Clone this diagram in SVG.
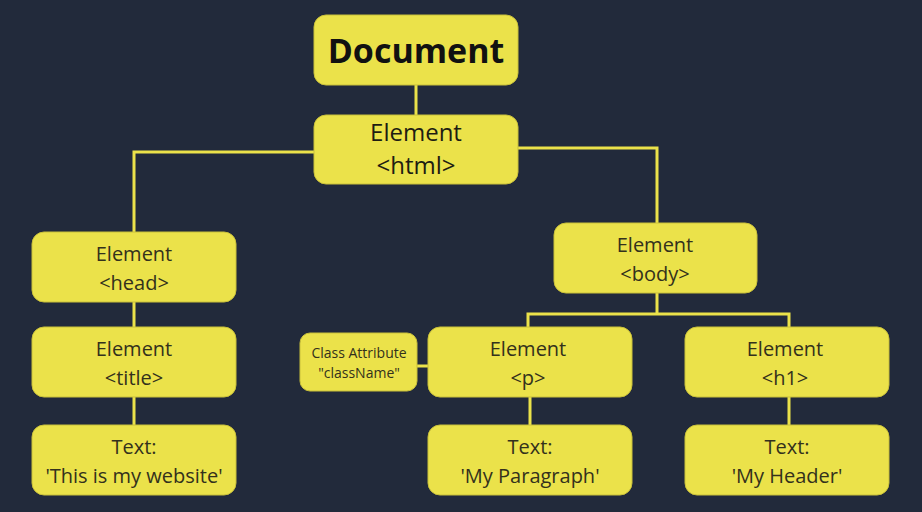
<svg xmlns="http://www.w3.org/2000/svg" width="922" height="512" viewBox="0 0 922 512">
<style>
.bg{fill:#222a3b}
.n{fill:#ebe24a;stroke:#c9c03a;stroke-width:1}
.c{fill:none;stroke:#ebe24a;stroke-width:3}
text{font-family:"Open Sans","Liberation Sans",sans-serif;fill:#33311c;text-anchor:middle}
.t{font-size:20px}
.h{font-size:24px;fill:#1e1d12}
.s{font-size:14px}
.d{font-size:34px;font-weight:700;fill:#111}
</style>
<rect class="bg" x="0" y="0" width="922" height="512"/>
<g id="connectors">
<path class="c" d="M416 85V115"/>
<path class="c" d="M314 152H134V232"/>
<path class="c" d="M518 148H657V223"/>
<path class="c" d="M134 302V327"/>
<path class="c" d="M134 397V425"/>
<path class="c" d="M657 293V314M528 327V314H789V327"/>
<path class="c" d="M417 366H428"/>
<path class="c" d="M530 397V425"/>
<path class="c" d="M789 397V425"/>
</g>
<g id="document"><rect class="n" x="314" y="15" width="204" height="70" rx="12"/><text class="d" x="416" y="63">Document</text></g>
<g id="html"><rect class="n" x="314" y="115" width="204" height="69" rx="12"/><text class="h" x="416" y="141">Element</text><text class="h" x="416" y="174">&lt;html&gt;</text></g>
<g id="head"><rect class="n" x="32" y="232" width="204" height="70" rx="12"/><text class="t" x="134" y="261">Element</text><text class="t" x="134" y="290">&lt;head&gt;</text></g>
<g id="title"><rect class="n" x="32" y="327" width="204" height="70" rx="12"/><text class="t" x="134" y="356">Element</text><text class="t" x="134" y="385">&lt;title&gt;</text></g>
<g id="text-title"><rect class="n" x="32" y="425" width="204" height="70" rx="12"/><text class="t" x="134" y="454">Text:</text><text class="t" x="134" y="483">'This is my website'</text></g>
<g id="body"><rect class="n" x="554" y="223" width="203" height="70" rx="12"/><text class="t" x="655" y="252">Element</text><text class="t" x="655" y="281">&lt;body&gt;</text></g>
<g id="class-attr"><rect class="n" x="300" y="333" width="117" height="58" rx="10"/><text class="s" x="359" y="358">Class Attribute</text><text class="s" x="359" y="378">"className"</text></g>
<g id="p"><rect class="n" x="428" y="327" width="204" height="70" rx="12"/><text class="t" x="528" y="356">Element</text><text class="t" x="528" y="385">&lt;p&gt;</text></g>
<g id="h1"><rect class="n" x="685" y="327" width="204" height="70" rx="12"/><text class="t" x="785" y="356">Element</text><text class="t" x="785" y="385">&lt;h1&gt;</text></g>
<g id="text-p"><rect class="n" x="428" y="425" width="204" height="70" rx="12"/><text class="t" x="530" y="454">Text:</text><text class="t" x="530" y="483">'My Paragraph'</text></g>
<g id="text-h1"><rect class="n" x="685" y="425" width="204" height="70" rx="12"/><text class="t" x="787" y="454">Text:</text><text class="t" x="787" y="483">'My Header'</text></g>
</svg>
